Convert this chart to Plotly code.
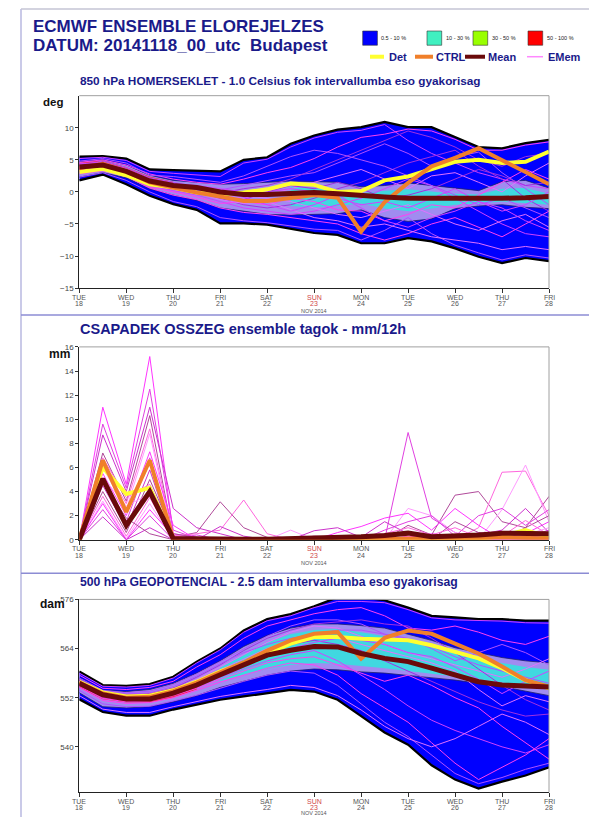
import plotly.graph_objects as go

W, H = 589, 822
FONT = "Liberation Sans, Arial, sans-serif"

# ---------------- data ----------------
hours = [0, 12, 24, 36, 48, 60, 72, 84, 96, 108, 120, 132, 144, 156, 168, 180, 192, 204, 216, 228, 240]
day_ticks = [0, 24, 48, 72, 96, 120, 144, 168, 192, 216, 240]
day_names = ["TUE", "WED", "THU", "FRI", "SAT", "SUN", "MON", "TUE", "WED", "THU", "FRI"]
day_nums = ["18", "19", "20", "21", "22", "23", "24", "25", "26", "27", "28"]

# 850 hPa temperature (deg C)
t850_env_hi = [5.5, 5.6, 5.2, 3.5, 3.4, 3.3, 3.2, 5.0, 5.4, 7.5, 8.8, 9.7, 10.1, 10.9, 10.1, 10.1, 8.6, 7.0, 6.8, 7.6, 8.1]
t850_env_lo = [1.8, 2.7, 1.2, -0.6, -1.9, -2.8, -4.9, -4.9, -5.1, -5.7, -6.4, -6.7, -8.0, -8.0, -7.2, -7.7, -8.8, -10.1, -11.1, -10.3, -10.8]
t850_in_hi = [4.7, 5.0, 4.2, 2.6, 1.8, 1.5, 1.2, 1.3, 1.5, 1.7, 1.6, 1.5, 0.8, 1.0, 1.4, 1.0, 0.5, 0.2, 1.6, 1.8, 0.6]
t850_in_lo = [2.3, 3.0, 2.2, 0.5, -0.5, -1.3, -2.5, -3.0, -3.5, -3.6, -3.5, -3.4, -2.8, -4.0, -4.6, -4.2, -2.6, -2.2, -2.0, -2.4, -2.6]
t850_cy_hi = [0.8, 0.6, 0.3, -0.2, 0.2, 0.4, 0.1, -0.3, -0.4, 0.5, 0.6, -0.3]   # from 108 h
t850_cy_lo = [-2.2, -2.4, -2.2, -1.8, -2.6, -3.0, -2.6, -2.0, -1.8, -1.5, -1.8, -2.0]
t850_red_hi = [4.6, 4.9, 3.9, 2.4, 1.6]   # first 48 h
t850_red_lo = [3.2, 3.5, 2.5, 1.0, 0.3]
t850_det = [3.1, 3.6, 2.6, 1.2, 0.7, -0.1, -0.4, -0.1, 0.4, 1.3, 1.1, 0.0, 0.15, 1.8, 2.4, 3.6, 4.7, 5.0, 4.5, 4.7, 6.3]
t850_ctrl = [3.7, 4.4, 3.2, 1.5, 0.7, -0.1, -0.7, -1.4, -1.4, -0.9, -0.5, -0.9, -6.2, -1.6, 1.4, 4.0, 5.3, 6.8, 5.0, 3.1, 1.2]
t850_mean = [3.9, 4.2, 3.2, 1.7, 1.0, 0.7, 0.0, -0.4, -0.4, -0.2, -0.1, -0.3, -0.6, -0.8, -1.0, -1.0, -1.1, -1.1, -1.0, -0.9, -0.7]
t850_members = [
    [5.2, 5.4, 4.9, 3.2, 2.9, 2.6, 2.4, 4.5, 5.1, 7.0, 8.4, 9.3, 9.6, 10.5, 8.0, 6.0, 4.5, 3.0, 2.0, 1.0, 0.5],
    [4.6, 5.0, 4.2, 2.8, 2.0, 1.5, 1.2, 2.0, 3.0, 3.8, 5.2, 7.0, 8.5, 9.0, 9.8, 9.5, 8.2, 6.5, 6.5, 7.3, 7.8],
    [4.2, 4.8, 3.8, 2.2, 1.5, 0.8, 0.3, 1.0, 1.8, 2.5, 3.0, 4.5, 6.0, 7.5, 6.0, 4.0, 5.5, 6.2, 3.0, 0.5, -2.0],
    [3.8, 4.2, 3.4, 1.8, 1.0, 0.5, -0.5, -1.0, -0.5, 0.5, 1.5, 2.5, 3.5, 2.0, 0.5, 2.5, 3.0, 1.5, 0.0, 2.5, 4.5],
    [3.5, 4.0, 3.0, 1.4, 0.6, 0.0, -1.0, -2.0, -2.5, -2.0, -1.0, 0.5, 1.5, 3.0, 4.5, 5.5, 6.5, 4.0, 2.0, -1.0, -3.0],
    [3.2, 3.7, 2.8, 1.0, 0.2, -0.5, -1.5, -2.5, -3.0, -3.5, -3.0, -2.0, -1.0, 0.5, 2.0, 1.0, -1.0, -3.0, -5.0, -6.5, -7.0],
    [2.8, 3.3, 2.4, 0.6, -0.5, -1.2, -2.5, -3.2, -3.5, -4.0, -4.5, -5.0, -6.5, -7.5, -6.5, -5.0, -4.0, -5.5, -7.0, -5.0, -3.0],
    [2.3, 3.0, 1.8, 0.0, -1.5, -2.3, -4.0, -4.5, -4.8, -5.3, -5.8, -6.0, -7.5, -6.0, -4.0, -6.5, -8.3, -9.5, -10.6, -9.8, -10.3],
    [4.0, 4.5, 3.6, 2.0, 1.2, 0.8, 0.2, -0.5, -1.0, -1.5, -2.5, -3.5, -4.0, -3.0, -2.0, -3.5, -5.0, -6.0, -4.5, -3.5, -5.5],
    [3.6, 4.1, 3.1, 1.6, 0.9, 0.3, -0.2, 0.5, 1.0, 2.0, 3.5, 5.0, 6.5, 8.0, 9.5, 8.5, 7.0, 5.0, 4.0, 5.5, 6.0],
    [4.4, 4.6, 3.5, 1.9, 1.3, 1.0, 0.5, 0.0, 0.0, 0.5, 0.0, -1.0, -2.0, -1.5, -2.5, -1.0, 0.5, -1.5, -3.0, -2.0, 0.0],
    [3.0, 3.5, 2.6, 0.8, 0.0, -0.8, -1.8, -1.5, -2.0, -1.0, -1.5, -2.8, -3.0, -4.5, -3.5, -2.0, -2.5, -0.5, 1.5, 3.5, 2.0],
    [4.8, 5.2, 4.5, 2.6, 2.4, 2.0, 1.5, 2.5, 4.0, 5.5, 6.5, 6.0, 5.0, 4.0, 2.5, 1.0, -0.5, -2.0, -1.0, -2.5, -4.0],
    [3.4, 3.9, 2.9, 1.2, 0.4, -0.2, -1.2, -1.8, -1.5, -2.8, -4.0, -4.5, -5.5, -5.0, -6.0, -7.0, -7.5, -8.0, -9.0, -8.5, -9.0],
    [4.1, 4.4, 3.3, 1.5, 0.8, 0.2, -0.8, -1.2, 0.0, 1.0, 0.5, 1.5, 0.5, -1.0, -0.5, 0.5, 2.0, 3.5, 2.5, 1.0, 1.5],
    [3.7, 4.3, 3.5, 2.0, 1.1, 0.4, 0.0, -0.8, -2.0, -3.0, -2.0, -0.5, -2.5, -4.5, -5.5, -4.0, -3.0, -1.5, -2.5, -4.5, -6.0],
]

# precipitation (mm/12h)
rr_det = [0, 6.0, 3.8, 4.3, 0.1, 0.0, 0.0, 0.0, 0.0, 0.0, 0.0, 0.0, 0.0, 0.0, 0.0, 0.0, 0.0, 0.1, 0.3, 0.8, 0.2]
rr_ctrl = [0, 6.6, 2.3, 6.6, 0.1, 0.0, 0.0, 0.0, 0.0, 0.0, 0.0, 0.0, 0.0, 0.05, 0.1, 0.1, 0.1, 0.15, 0.2, 0.15, 0.1]
rr_mean = [0, 5.06, 1.2, 4.0, 0.1, 0.05, 0.05, 0.05, 0.05, 0.08, 0.12, 0.18, 0.25, 0.35, 0.55, 0.25, 0.3, 0.4, 0.55, 0.55, 0.5]
rr_members = [
    [0, 11.0, 4.6, 15.2, 0.5, 0.2, 0.0, 0.0, 0.0, 0.0, 0.1, 0.0, 0.0, 0.0, 0.2, 0.5, 0.3, 0.0, 0.2, 0.5, 1.5],
    [0, 9.6, 4.3, 12.5, 0.8, 0.1, 0.0, 0.0, 0.0, 0.0, 0.0, 0.0, 0.0, 0.0, 8.9, 1.8, 0.6, 0.0, 0.0, 0.3, 0.2],
    [0, 8.7, 4.0, 11.0, 2.6, 1.0, 0.5, 0.0, 0.0, 0.0, 0.0, 0.0, 0.3, 0.1, 0.0, 0.0, 0.0, 0.6, 0.4, 0.2, 0.8],
    [0, 7.2, 3.2, 10.3, 0.2, 0.6, 3.15, 1.0, 0.2, 0.0, 0.0, 0.0, 0.0, 0.0, 1.2, 0.4, 3.7, 4.0, 1.5, 1.0, 3.6],
    [0, 6.3, 3.0, 9.2, 0.3, 0.5, 0.8, 3.3, 0.5, 0.0, 0.0, 0.1, 0.0, 0.0, 0.0, 0.0, 0.0, 1.0, 5.6, 5.7, 2.0],
    [0, 6.0, 2.5, 8.8, 0.0, 0.0, 0.1, 0.0, 0.0, 0.8, 0.0, 0.0, 0.0, 0.0, 2.6, 2.0, 0.6, 0.0, 2.5, 6.2, 1.5],
    [0, 5.5, 2.0, 7.3, 1.2, 0.0, 0.0, 0.0, 0.0, 0.0, 0.0, 0.6, 1.1, 1.8, 2.2, 0.8, 2.6, 1.2, 0.0, 0.0, 0.3],
    [0, 5.0, 1.5, 6.8, 0.1, 0.4, 0.0, 0.0, 0.0, 0.0, 0.3, 0.2, 0.0, 0.8, 1.5, 2.0, 0.3, 2.0, 2.6, 1.2, 2.5],
    [0, 4.5, 1.0, 5.8, 0.0, 0.0, 1.1, 0.3, 0.0, 0.0, 0.75, 1.0, 0.2, 1.5, 0.5, 0.0, 0.0, 0.4, 0.8, 2.6, 0.6],
    [0, 4.0, 0.6, 5.0, 0.5, 0.2, 0.0, 0.0, 0.2, 0.0, 0.0, 0.0, 0.0, 0.0, 0.0, 0.0, 1.5, 0.6, 0.0, 1.0, 2.0],
    [0, 3.6, 0.3, 3.5, 0.0, 0.0, 0.0, 0.0, 0.0, 0.0, 0.0, 0.3, 0.0, 0.5, 1.0, 0.4, 1.0, 0.2, 0.3, 1.6, 0.4],
    [0, 3.2, 0.1, 3.0, 0.0, 0.0, 0.0, 0.0, 0.0, 0.0, 0.0, 0.0, 0.0, 0.0, 0.0, 0.0, 0.0, 0.0, 0.0, 0.4, 1.0],
    [0, 3.0, 0.0, 2.5, 0.3, 0.0, 0.0, 0.0, 0.0, 0.0, 0.0, 0.0, 0.0, 0.0, 0.3, 0.2, 0.0, 0.0, 0.0, 0.0, 0.0],
    [0, 2.5, 0.0, 2.0, 0.0, 0.0, 0.0, 0.0, 0.0, 0.0, 0.0, 0.0, 0.0, 0.0, 0.0, 0.0, 0.2, 0.0, 0.0, 0.0, 0.0],
    [0, 1.9, 0.0, 1.0, 0.0, 0.0, 0.0, 0.0, 0.0, 0.0, 0.0, 0.0, 0.0, 0.0, 0.0, 0.0, 0.0, 0.0, 0.0, 0.0, 0.0],
    [0, 4.8, 1.8, 0.5, 0.0, 0.0, 0.0, 0.0, 0.0, 0.0, 0.0, 0.0, 0.0, 0.0, 0.0, 0.0, 0.0, 0.0, 0.0, 0.0, 0.0],
    [0, 6.8, 3.5, 4.6, 0.4, 0.0, 0.0, 0.0, 0.0, 0.0, 0.0, 0.0, 0.0, 0.0, 0.0, 0.0, 0.0, 0.0, 0.0, 0.0, 0.0],
    [0, 5.2, 2.8, 3.8, 0.0, 0.0, 0.0, 0.0, 0.0, 0.0, 0.0, 0.0, 0.0, 0.0, 0.0, 0.0, 0.0, 0.0, 0.0, 0.0, 0.0],
]

# 500 hPa geopotential (dam)
z500_env_hi = [558.4, 555.1, 554.9, 555.3, 557.1, 560.8, 564.0, 568.4, 571.2, 572.4, 574.3, 576.5, 576.5, 575.8, 574.0, 572.0, 571.6, 571.2, 571.2, 570.8, 570.8]
z500_env_lo = [551.6, 548.5, 547.6, 547.6, 549.1, 550.3, 551.5, 552.3, 553.1, 553.9, 553.5, 551.5, 547.5, 543.5, 540.5, 535.5, 532.0, 529.8, 531.5, 533.0, 535.0]
z500_in_hi = [556.8, 553.8, 553.5, 554.0, 555.5, 558.0, 561.0, 564.5, 567.2, 569.0, 570.0, 570.0, 569.6, 569.0, 567.5, 566.0, 564.2, 563.0, 561.8, 561.0, 560.5]
z500_in_lo = [553.2, 549.8, 549.5, 549.8, 551.0, 552.5, 554.5, 556.0, 557.5, 558.5, 559.0, 558.8, 558.3, 558.0, 557.4, 556.8, 556.3, 555.5, 554.7, 553.6, 552.5]
z500_cy_hi = [559.5, 562.5, 565.5, 567.5, 568.5, 568.8, 568.0, 567.0, 565.8, 564.5, 563.0, 561.8, 560.5, 559.5, 558.8]  # from 72 h
z500_cy_lo = [556.0, 557.5, 559.0, 560.0, 560.5, 560.3, 559.8, 559.2, 558.5, 557.8, 557.2, 556.5, 555.8, 555.0, 554.2]
z500_red_hi = [556.5, 553.6, 552.9, 553.0, 554.4, 556.3]   # first 60 h
z500_red_lo = [554.5, 551.6, 550.8, 550.8, 552.0, 554.0]
z500_det = [555.9, 553.3, 552.3, 552.5, 553.8, 555.9, 558.4, 560.4, 562.8, 565.2, 566.8, 566.8, 566.4, 566.2, 566.0, 564.8, 563.2, 561.6, 559.2, 556.3, 554.3]
z500_ctrl = [555.7, 553.0, 552.0, 552.2, 553.6, 555.7, 558.2, 560.6, 563.5, 566.0, 567.6, 568.0, 561.5, 566.6, 568.4, 567.6, 565.2, 562.8, 559.6, 556.3, 554.7]
z500_mean = [555.5, 552.7, 551.7, 551.7, 553.1, 555.1, 557.6, 560.0, 562.4, 563.6, 564.5, 564.4, 562.8, 561.6, 560.8, 559.2, 557.6, 555.9, 555.1, 554.9, 554.6]
z500_members = [
    [558.0, 554.8, 554.6, 555.0, 556.8, 560.5, 563.7, 568.0, 570.8, 572.0, 574.0, 575.5, 575.5, 575.2, 573.5, 571.5, 571.0, 570.8, 570.7, 570.3, 570.2],
    [557.5, 554.3, 554.0, 554.5, 556.0, 559.5, 562.5, 566.5, 569.5, 571.0, 572.5, 573.5, 574.0, 572.0, 569.0, 568.5, 569.5, 568.0, 566.0, 565.0, 567.0],
    [556.8, 553.8, 553.2, 553.6, 555.2, 557.8, 560.8, 564.0, 567.0, 569.5, 571.0, 571.0, 570.0, 567.5, 566.5, 564.0, 561.0, 563.0, 565.0, 563.0, 560.0],
    [556.0, 553.0, 552.3, 552.6, 554.0, 556.5, 559.5, 562.5, 565.5, 568.0, 569.5, 569.0, 567.0, 565.0, 563.0, 561.5, 560.0, 558.5, 557.0, 559.0, 561.5],
    [555.5, 552.5, 551.8, 552.0, 553.5, 555.5, 558.0, 560.5, 563.0, 565.0, 566.0, 565.0, 563.5, 561.0, 558.5, 556.0, 553.5, 551.0, 549.0, 547.5, 548.0],
    [555.0, 552.0, 551.3, 551.5, 552.8, 554.8, 557.0, 559.0, 561.0, 562.5, 563.5, 561.0, 557.5, 554.0, 550.0, 546.5, 544.0, 542.0, 540.0, 538.5, 540.5],
    [554.5, 551.3, 550.6, 550.8, 552.0, 553.8, 555.8, 557.5, 559.2, 560.5, 560.0, 557.5, 553.0, 549.5, 546.0, 541.0, 536.0, 532.0, 535.0, 538.0, 542.0],
    [553.8, 550.5, 549.8, 549.9, 551.2, 552.6, 554.3, 556.0, 557.5, 558.5, 558.0, 555.0, 550.5, 546.0, 542.5, 538.0, 533.5, 531.0, 532.5, 534.5, 536.0],
    [552.5, 549.2, 548.4, 548.4, 549.8, 551.0, 552.3, 553.2, 554.0, 555.0, 554.5, 552.5, 549.0, 545.0, 542.0, 540.0, 542.0, 545.0, 548.0, 546.0, 543.0],
    [556.2, 553.2, 552.6, 552.8, 554.3, 557.0, 560.0, 563.5, 566.5, 568.5, 570.0, 570.5, 571.0, 570.0, 569.5, 566.5, 563.0, 559.0, 555.0, 551.5, 549.0],
    [555.2, 552.2, 551.5, 551.6, 553.0, 555.0, 557.3, 559.5, 562.0, 564.0, 565.5, 566.5, 566.0, 565.0, 563.0, 562.0, 559.5, 556.5, 553.0, 556.0, 558.5],
    [554.8, 551.8, 551.0, 551.2, 552.5, 554.3, 556.5, 558.5, 560.5, 561.5, 562.0, 560.0, 558.0, 556.0, 557.5, 555.0, 552.0, 549.5, 545.0, 541.0, 537.0],
    [556.5, 553.5, 552.9, 553.2, 554.7, 557.3, 560.3, 563.0, 565.0, 566.5, 567.5, 568.5, 568.5, 567.5, 566.0, 564.5, 562.0, 560.0, 558.5, 557.0, 555.5],
    [555.8, 552.8, 552.1, 552.3, 553.8, 556.2, 558.8, 561.5, 564.0, 566.0, 567.0, 566.5, 565.0, 563.5, 562.0, 560.5, 558.5, 554.0, 550.0, 552.5, 551.0],
]

# ---------------- styling ----------------
def pxx(p):
    return p / W


def pxy(p):
    return 1 - p / H


X0, X1 = 79.3, 549.0
PANELS = [
    dict(top=92.7, bot=287.3, rng=[-15, 15], ticks=[-15, -10, -5, 0, 5, 10]),
    dict(top=346.7, bot=541.7, rng=[0, 16], ticks=[0, 2, 4, 6, 8, 10, 12, 14, 16]),
    dict(top=602.0, bot=797.0, rng=[528.9, 576], ticks=[540, 552, 564, 576]),
]
MEMBER_COLS = ["#d040ff", "#ff40f0", "#b050ff", "#e070ff", "#a030e0"]
RR_COLS = ["#ff33ff", "#e040e0", "#cc33cc", "#b04a9a", "#ff66dd", "#ff99ff"]
BLUE, INNER, CYAN, RED = "#0000ff", "#a08cf0", "#40d8e0", "#f03050"
DET_C, CTRL_C, MEAN_C = "#ffff30", "#f07f2a", "#6a0a0a"
NAVY = "#1a1a8a"

fig = go.Figure()


def band(xs, hi, lo, color, ax, outline=None, ow=2):
    fig.add_trace(go.Scatter(x=list(xs) + list(xs)[::-1], y=list(hi) + list(lo)[::-1],
                             fill="toself", fillcolor=color, mode="lines",
                             line=dict(width=0, color=color), hoverinfo="skip",
                             showlegend=False, xaxis="x" + ax, yaxis="y" + ax))
    if outline:
        for s in (hi, lo):
            fig.add_trace(go.Scatter(x=xs, y=s, mode="lines", line=dict(color=outline, width=ow),
                                     hoverinfo="skip", showlegend=False, xaxis="x" + ax, yaxis="y" + ax))


def line(xs, ys, color, width, ax):
    fig.add_trace(go.Scatter(x=xs, y=ys, mode="lines", line=dict(color=color, width=width),
                             hoverinfo="skip", showlegend=False, xaxis="x" + ax, yaxis="y" + ax))


# panel 1
band(hours, t850_env_hi, t850_env_lo, BLUE, "", outline="#000000", ow=2.2)
band(hours, t850_in_hi, t850_in_lo, INNER, "", outline="#20206a", ow=0.8)
band(hours[9:], t850_cy_hi, t850_cy_lo, CYAN, "")
band(hours[:5], t850_red_hi, t850_red_lo, RED, "")
for i, m in enumerate(t850_members):
    line(hours, m, MEMBER_COLS[i % len(MEMBER_COLS)], 1, "")
line(hours, t850_det, DET_C, 4, "")
line(hours, t850_ctrl, CTRL_C, 4, "")
line(hours, t850_mean, MEAN_C, 5, "")

# panel 2
for i, m in enumerate(rr_members):
    line(hours, m, RR_COLS[i % len(RR_COLS)], 1, "2")
line(hours, rr_det, DET_C, 4, "2")
line(hours, rr_ctrl, CTRL_C, 4, "2")
line(hours, rr_mean, MEAN_C, 5, "2")

# panel 3
band(hours, z500_env_hi, z500_env_lo, BLUE, "3", outline="#000000", ow=2.2)
band(hours, z500_in_hi, z500_in_lo, INNER, "3", outline="#20206a", ow=0.8)
band(hours[6:], z500_cy_hi, z500_cy_lo, CYAN, "3")
band(hours[:6], z500_red_hi, z500_red_lo, RED, "3")
for i, m in enumerate(z500_members):
    line(hours, m, MEMBER_COLS[i % len(MEMBER_COLS)], 1, "3")
line(hours, z500_det, DET_C, 4, "3")
line(hours, z500_ctrl, CTRL_C, 4, "3")
line(hours, z500_mean, MEAN_C, 5, "3")

layout = dict(width=W, height=H, margin=dict(l=0, r=0, t=0, b=0),
              paper_bgcolor="white", plot_bgcolor="white", showlegend=False,
              font=dict(family=FONT))
shapes, annotations = [], []


def ann(x, y, text, size, color="#000", xanchor="left", bold=False):
    annotations.append(dict(x=pxx(x), y=pxy(y), xref="paper", yref="paper",
                            text=("<b>%s</b>" % text) if bold else text, showarrow=False,
                            xanchor=xanchor, yanchor="middle", borderpad=0,
                            font=dict(size=size, color=color, family=FONT)))


for i, p in enumerate(PANELS):
    k = "" if i == 0 else str(i + 1)
    layout["xaxis" + k] = dict(domain=[pxx(X0), pxx(X1)], range=[0, 240], anchor="y" + k,
                               tickvals=day_ticks, showticklabels=False, ticks="outside", ticklen=4,
                               tickcolor="#333", showline=True, linecolor="#222", linewidth=1,
                               showgrid=False, zeroline=False, fixedrange=True)
    layout["yaxis" + k] = dict(domain=[pxy(p["bot"]), pxy(p["top"])], range=p["rng"], anchor="x" + k,
                               tickvals=p["ticks"], ticks="outside", ticklen=3, tickcolor="#333",
                               tickfont=dict(size=8, color="#444", family=FONT),
                               showline=True, linecolor="#222", linewidth=1,
                               showgrid=False, zeroline=False, fixedrange=True)
    # grey top / right frame
    shapes.append(dict(type="line", xref="paper", yref="paper", x0=pxx(X0), x1=pxx(X1),
                       y0=pxy(p["top"]), y1=pxy(p["top"]), line=dict(color="#a0a0a0", width=1)))
    shapes.append(dict(type="line", xref="paper", yref="paper", x0=pxx(X1), x1=pxx(X1),
                       y0=pxy(p["top"]), y1=pxy(p["bot"]), line=dict(color="#a0a0a0", width=1)))
    # day labels
    for j, h in enumerate(day_ticks):
        col = "#d04848" if day_names[j] == "SUN" else "#555"
        annotations.append(dict(x=h, y=pxy(p["bot"] + 9), xref="x" + k, yref="paper", text=day_names[j],
                                showarrow=False, xanchor="center", yanchor="middle", borderpad=0,
                                font=dict(size=7, color=col, family=FONT)))
        annotations.append(dict(x=h, y=pxy(p["bot"] + 15.5), xref="x" + k, yref="paper", text=day_nums[j],
                                showarrow=False, xanchor="center", yanchor="middle", borderpad=0,
                                font=dict(size=7, color=col, family=FONT)))
    annotations.append(dict(x=120, y=pxy(min(p["bot"] + 23.5, 817.5)), xref="x" + k, yref="paper",
                            text="NOV 2014", showarrow=False, xanchor="center", yanchor="middle",
                            borderpad=0, font=dict(size=5.5, color="#555", family=FONT)))

# page frame and separators
shapes.append(dict(type="line", xref="paper", yref="paper", x0=pxx(21), x1=pxx(21), y0=pxy(5), y1=0,
                   line=dict(color="#b8b8e0", width=1.5)))
shapes.append(dict(type="line", xref="paper", yref="paper", x0=pxx(21), x1=1, y0=pxy(5), y1=pxy(5),
                   line=dict(color="#c4c4d4", width=1.5)))
for sy in (314.5, 575.5):
    shapes.append(dict(type="line", xref="paper", yref="paper", x0=pxx(21), x1=1, y0=pxy(sy), y1=pxy(sy),
                       line=dict(color="#8c8cd4", width=1.5)))

# titles
ann(32, 23, "ECMWF ENSEMBLE ELOREJELZES", 17, NAVY, bold=True)
ann(32, 41.5, "DATUM: 20141118_00_utc  Budapest", 17, NAVY, bold=True)
ann(79, 78, "850 hPa HOMERSEKLET - 1.0 Celsius fok intervallumba eso gyakorisag", 11.8, NAVY, bold=True)
ann(79, 329, "CSAPADEK OSSZEG ensemble tagok - mm/12h", 14.5, NAVY, bold=True)
ann(79, 584, "500 hPa GEOPOTENCIAL - 2.5 dam intervallumba eso gyakorisag", 12.2, NAVY, bold=True)
ann(53, 99, "deg", 11.5, "#111", xanchor="center", bold=True)
ann(59, 354, "mm", 12, "#111", xanchor="center", bold=True)
ann(52, 607, "dam", 12, "#111", xanchor="center", bold=True)

# legend
legend_boxes = [(362.7, BLUE, "0.5 - 10 %"), (427.0, "#40f0c0", "10 - 30 %"),
                (473.0, "#99ff00", "30 - 50 %"), (528.0, "#ff0000", "50 - 100 %")]
for x0, c, txt in legend_boxes:
    shapes.append(dict(type="rect", xref="paper", yref="paper", x0=pxx(x0), x1=pxx(x0 + 14.7),
                       y0=pxy(41.7), y1=pxy(27.3), fillcolor=c, line=dict(color="#333", width=0.6)))
    ann(x0 + 17.5, 34.5, txt, 5.5, "#222")
legend_lines = [(370, 384, DET_C, 4, "Det", 388), (415, 433, CTRL_C, 4, "CTRL", 435),
                (465, 485, MEAN_C, 4, "Mean", 487), (527, 543, "#ff88ff", 1.5, "EMem", 547)]
for x0, x1, c, w, txt, tx in legend_lines:
    shapes.append(dict(type="line", xref="paper", yref="paper", x0=pxx(x0), x1=pxx(x1),
                       y0=pxy(53.3), y1=pxy(53.3), line=dict(color=c, width=w)))
    ann(tx, 53.3, txt, 11, NAVY, bold=True)

layout["shapes"] = shapes
layout["annotations"] = annotations
fig.update_layout(**layout)
fig.write_html("out.html",
               config={"displayModeBar": False, "staticPlot": True},
               post_script="document.body.style.margin='0';document.body.style.padding='0';"
                           "document.body.style.overflow='hidden';")
